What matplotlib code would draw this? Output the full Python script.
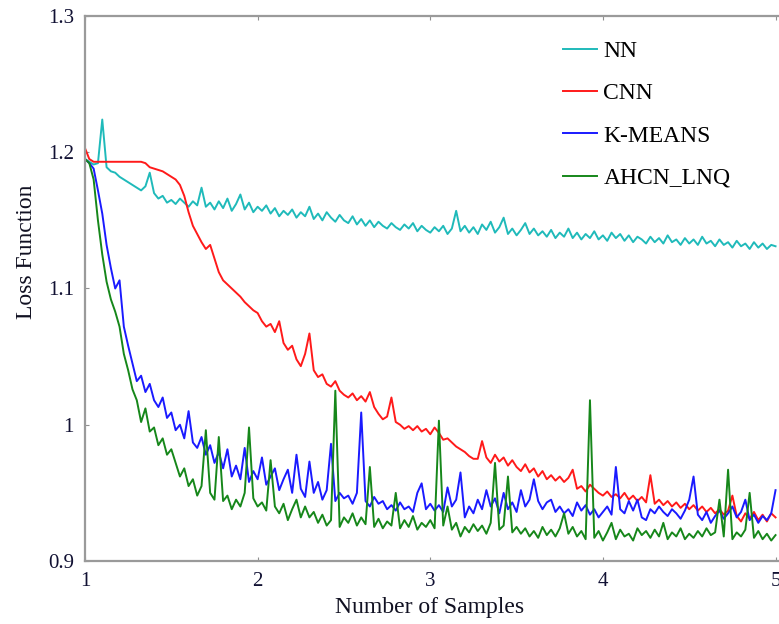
import numpy as np
import matplotlib
matplotlib.use("Agg")
import matplotlib.pyplot as plt

plt.rcParams['font.family'] = ['Liberation Serif', 'DejaVu Serif']

# loss values, 161 samples between 1 and 5
nn = [1.195, 1.193, 1.191, 1.192, 1.224, 1.189, 1.186, 1.185, 1.182, 1.180, 1.178,
      1.176, 1.174, 1.172, 1.175, 1.185, 1.170, 1.166, 1.168, 1.163, 1.165,
      1.162, 1.166, 1.163, 1.160, 1.164, 1.161, 1.174, 1.160, 1.163, 1.158,
      1.164, 1.159, 1.166, 1.157, 1.162, 1.169, 1.158, 1.163, 1.156, 1.160,
      1.157, 1.161, 1.155, 1.159, 1.153, 1.157, 1.154, 1.158, 1.152, 1.156,
      1.153, 1.160, 1.151, 1.155, 1.150, 1.156, 1.152, 1.149, 1.154, 1.150,
      1.148, 1.153, 1.147, 1.151, 1.146, 1.150, 1.145, 1.149, 1.146, 1.144,
      1.148, 1.145, 1.143, 1.147, 1.144, 1.148, 1.142, 1.146, 1.143, 1.141,
      1.145, 1.142, 1.146, 1.140, 1.144, 1.157, 1.142, 1.146, 1.141, 1.145,
      1.140, 1.147, 1.143, 1.149, 1.141, 1.145, 1.152, 1.140, 1.144, 1.139,
      1.143, 1.148, 1.140, 1.144, 1.139, 1.142, 1.138, 1.143, 1.137, 1.141,
      1.138, 1.144, 1.137, 1.141, 1.136, 1.140, 1.137, 1.142, 1.136, 1.139,
      1.135, 1.141, 1.137, 1.140, 1.135, 1.139, 1.134, 1.138, 1.136, 1.133,
      1.138, 1.134, 1.137, 1.133, 1.139, 1.134, 1.136, 1.132, 1.137, 1.133,
      1.136, 1.132, 1.138, 1.133, 1.135, 1.131, 1.136, 1.132, 1.134, 1.130,
      1.135, 1.131, 1.133, 1.129, 1.134, 1.130, 1.133, 1.129, 1.132, 1.131]

cnn = [1.203, 1.195, 1.193, 1.193, 1.193, 1.193, 1.193, 1.193, 1.193, 1.193, 1.193,
       1.193, 1.193, 1.193, 1.192, 1.189, 1.188, 1.187, 1.186, 1.184, 1.182,
       1.180, 1.176, 1.168, 1.156, 1.146, 1.140, 1.134, 1.129, 1.132, 1.122,
       1.112, 1.106, 1.103, 1.100, 1.097, 1.094, 1.090, 1.087, 1.084, 1.082,
       1.076, 1.072, 1.074, 1.068, 1.076, 1.060, 1.055, 1.058, 1.048, 1.043,
       1.052, 1.067, 1.040, 1.035, 1.037, 1.030, 1.028, 1.032, 1.025, 1.022,
       1.020, 1.023, 1.018, 1.021, 1.017, 1.024, 1.013, 1.008, 1.004, 1.006,
       1.020, 1.002, 1.000, 0.997, 0.999, 0.996, 0.999, 0.995, 0.997, 0.993,
       0.998, 0.994, 0.989, 0.990, 0.987, 0.984, 0.982, 0.980, 0.977, 0.975,
       0.975, 0.988, 0.976, 0.972, 0.978, 0.973, 0.976, 0.970, 0.974, 0.969,
       0.966, 0.971, 0.965, 0.968, 0.962, 0.966, 0.960, 0.963, 0.959, 0.962,
       0.958, 0.961, 0.967, 0.953, 0.955, 0.951, 0.956, 0.953, 0.950, 0.948,
       0.951, 0.947, 0.949, 0.946, 0.950, 0.945, 0.948, 0.944, 0.947, 0.943,
       0.963, 0.942, 0.945, 0.941, 0.944, 0.940, 0.943, 0.939, 0.942, 0.938,
       0.941, 0.937, 0.940, 0.936, 0.939, 0.935, 0.938, 0.934, 0.937, 0.948,
       0.933, 0.929, 0.935, 0.931, 0.936, 0.930, 0.934, 0.929, 0.935, 0.932]

kmeans = [1.195, 1.192, 1.188, 1.172, 1.155, 1.132, 1.115, 1.100, 1.106, 1.072, 1.058,
          1.045, 1.032, 1.036, 1.024, 1.030, 1.018, 1.013, 1.020, 1.005, 1.009,
          0.996, 1.000, 0.990, 1.010, 0.987, 0.983, 0.991, 0.978, 0.985, 0.972,
          0.980, 0.968, 0.982, 0.962, 0.970, 0.960, 0.983, 0.958, 0.966, 0.960,
          0.976, 0.956, 0.962, 0.968, 0.952, 0.960, 0.967, 0.950, 0.978, 0.953,
          0.947, 0.973, 0.950, 0.958, 0.945, 0.952, 0.986, 0.944, 0.950, 0.946,
          0.948, 0.942, 0.950, 1.009, 0.944, 0.940, 0.947, 0.942, 0.944, 0.938,
          0.941, 0.937, 0.943, 0.938, 0.940, 0.936, 0.950, 0.957, 0.938, 0.942,
          0.937, 0.941, 0.936, 0.954, 0.940, 0.945, 0.965, 0.932, 0.940, 0.935,
          0.945, 0.938, 0.952, 0.940, 0.946, 0.935, 0.950, 0.938, 0.943, 0.936,
          0.952, 0.940, 0.945, 0.960, 0.944, 0.938, 0.943, 0.945, 0.936, 0.940,
          0.935, 0.938, 0.933, 0.943, 0.937, 0.941, 0.934, 0.938, 0.932, 0.936,
          0.940, 0.934, 0.969, 0.938, 0.935, 0.944, 0.937, 0.945, 0.932, 0.930,
          0.938, 0.935, 0.940, 0.936, 0.933, 0.938, 0.935, 0.931, 0.937, 0.945,
          0.962, 0.934, 0.930, 0.936, 0.928, 0.933, 0.937, 0.931, 0.935, 0.940,
          0.932, 0.936, 0.945, 0.930, 0.934, 0.928, 0.933, 0.930, 0.935, 0.952]

ahcn = [1.195, 1.192, 1.180, 1.150, 1.125, 1.105, 1.092, 1.083, 1.072, 1.052, 1.040,
        1.026, 1.018, 1.002, 1.012, 0.995, 0.998, 0.985, 0.990, 0.978, 0.982,
        0.972, 0.962, 0.968, 0.955, 0.960, 0.948, 0.955, 0.996, 0.950, 0.945,
        0.991, 0.944, 0.948, 0.938, 0.945, 0.940, 0.950, 0.998, 0.946, 0.940,
        0.943, 0.937, 0.974, 0.940, 0.935, 0.942, 0.930, 0.938, 0.945, 0.932,
        0.940, 0.932, 0.936, 0.928, 0.934, 0.926, 0.930, 1.025, 0.925, 0.932,
        0.928, 0.935, 0.926, 0.932, 0.927, 0.969, 0.925, 0.931, 0.924, 0.929,
        0.926, 0.950, 0.924, 0.930, 0.925, 0.933, 0.923, 0.928, 0.925, 0.930,
        0.924, 1.003, 0.926, 0.940, 0.923, 0.928, 0.918, 0.925, 0.921, 0.927,
        0.922, 0.926, 0.920, 0.928, 0.972, 0.923, 0.926, 0.962, 0.921, 0.925,
        0.920, 0.924, 0.918, 0.922, 0.917, 0.925, 0.919, 0.923, 0.918, 0.924,
        0.935, 0.920, 0.925, 0.918, 0.922, 0.916, 1.018, 0.917, 0.922, 0.915,
        0.921, 0.928, 0.916, 0.923, 0.918, 0.920, 0.915, 0.924, 0.919, 0.922,
        0.917, 0.923, 0.918, 0.928, 0.916, 0.921, 0.918, 0.924, 0.916, 0.920,
        0.917, 0.922, 0.918, 0.924, 0.919, 0.921, 0.945, 0.918, 0.967, 0.916,
        0.921, 0.918, 0.923, 0.950, 0.917, 0.922, 0.916, 0.920, 0.915, 0.919]

samples = np.linspace(1, 5, len(nn))

fig = plt.figure(figsize=(7.79, 6.24), dpi=100)
ax = fig.add_axes([85/779, 1 - 561/624, 694/779, 545/624])

ax.plot(samples, nn, color='#1fbaba', lw=1.4, label='NN')
ax.plot(samples, cnn, color='#ff1a1a', lw=1.4, label='CNN')
ax.plot(samples, kmeans, color='#1a1aff', lw=1.4, label='K-MEANS')
ax.plot(samples, ahcn, color='#16871a', lw=1.4, label='AHCN_LNQ')

ax.set_xlim(1, 5.02)
ax.set_ylim(0.9, 1.3)
ax.set_xticks([1, 2, 3, 4, 5])
ax.set_yticks([0.9, 1.0, 1.1, 1.2, 1.3])
ax.set_yticklabels(['0.9', '1', '1.1', '1.2', '1.3'])
ax.tick_params(direction='in', length=3, color='#909090', labelsize=15,
               top=True, pad=8, labelcolor='#111133')

for s in ['left', 'bottom', 'top']:
    ax.spines[s].set_color('#9a9a9a')
    ax.spines[s].set_linewidth(1.6)
ax.spines['right'].set_visible(False)

fig.text(430/779, 1 - 608/624, 'Number of Samples', ha='center', va='center',
         fontsize=17, color='#111122')
fig.text(27/779, 1 - 252/624, 'Loss Function', ha='center', va='center',
         rotation=90, fontsize=17, color='#111122')

ax.legend(loc='upper left', bbox_to_anchor=(0.689, 0.955), frameon=False,
          fontsize=17, handlelength=1.45, handletextpad=0.25, labelspacing=0.88,
          borderaxespad=0, borderpad=0)

fig.savefig('out.png', dpi=100)
